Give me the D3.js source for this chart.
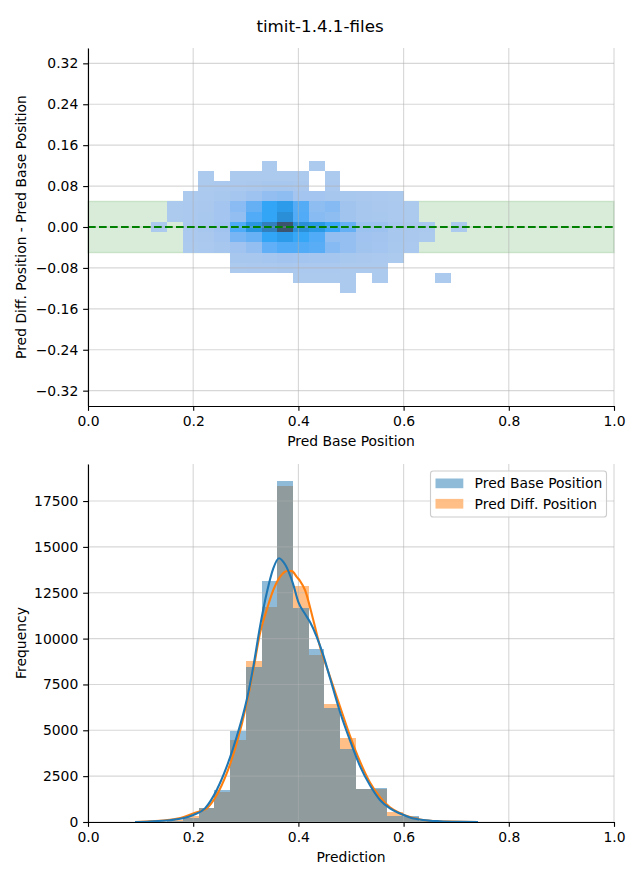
<!DOCTYPE html>
<html><head><meta charset="utf-8">
<script src="https://cdn.jsdelivr.net/npm/d3@7"></script>
<style>
body{margin:0;background:#fff}
svg{display:block}
text{font-family:"DejaVu Sans",sans-serif}
</style>
</head><body>
<svg id="c" width="640" height="880"></svg>
<script>
// ---------------- DATA ----------------
const title = "timit-1.4.1-files";

// 2D histogram (top): bin edges and counts [row = y bin, col = x bin]
const heatXEdges = [0.12,0.15,0.18,0.21,0.24,0.27,0.30,0.33,0.36,0.39,0.42,0.45,0.48,0.51,0.54,0.57,0.60,0.63,0.66,0.69,0.72];
const heatYEdges = [-0.13,-0.11,-0.09,-0.07,-0.05,-0.03,-0.01,0.01,0.03,0.05,0.07,0.09,0.11,0.13];
const heatCounts = [
  [0,0,0,0,0,0,0,0,0,0,0,0,4,0,0,0,0,0,0,0],
  [0,0,0,0,0,0,0,0,0,15,12,10,8,0,6,0,0,0,3,0],
  [0,0,0,0,0,30,50,70,80,70,50,40,30,20,12,0,0,0,0,0],
  [0,0,0,0,0,150,200,270,360,320,270,270,120,80,50,25,0,0,0,0],
  [0,0,25,70,200,450,900,2160,2430,2430,2340,1260,800,400,350,120,60,0,0,0],
  [0,0,40,100,300,1620,1980,2970,3600,2880,2430,900,800,450,380,150,80,30,0,0],
  [8,0,60,150,450,2520,4140,5760,9000,4600,3870,2790,2070,600,550,200,100,40,0,6],
  [0,20,50,120,350,900,2430,2970,4600,2430,1170,990,400,180,120,60,25,0,0,0],
  [0,15,40,100,300,1100,2070,2970,3600,2400,1000,1260,400,150,100,60,25,0,0,0],
  [0,0,20,60,120,250,500,850,1000,350,300,200,120,80,60,30,0,0,0,0],
  [0,0,0,30,45,60,90,150,170,80,0,40,0,0,0,0,0,0,0,0],
  [0,0,0,12,0,20,25,30,35,25,0,15,0,0,0,0,0,0,0,0],
  [0,0,0,0,0,0,0,10,0,0,8,0,0,0,0,0,0,0,0,0]
];
const bandLow = -0.05, bandHigh = 0.05, refLine = 0;
const topXTicks = [0,0.2,0.4,0.6,0.8,1.0];
const topYTicks = [-0.32,-0.24,-0.16,-0.08,0,0.08,0.16,0.24,0.32];
const topXLabel = "Pred Base Position";
const topYLabel = "Pred Diff. Position - Pred Base Position";

// 1D histograms (bottom)
const seriesNames = ["Pred Base Position","Pred Diff. Position"];
const histEdges = [0.0910,0.1209,0.1507,0.1806,0.2105,0.2404,0.2702,0.3001,0.3300,0.3599,0.3897,0.4196,0.4494,0.4793,0.5092,0.5391,0.5689,0.5988,0.6287,0.6585,0.6884,0.7183,0.7482];
const baseCounts = [5,15,60,230,760,1745,4980,8450,13150,18590,11650,9430,6200,4000,1800,1830,330,330,60,20,8,3];
const diffCounts = [10,25,120,330,740,1636,4470,8780,11740,18330,12870,9100,6430,4600,1790,1810,545,255,50,15,6,2];
const baseKdeX = [0.0894,0.1179,0.1559,0.1806,0.2002,0.2224,0.2447,0.2637,0.2827,0.3017,0.3143,0.3270,0.3397,0.3523,0.3631,0.3745,0.3897,0.3998,0.4125,0.4221,0.4348,0.4473,0.4601,0.4791,0.4981,0.5171,0.5361,0.5551,0.5741,0.5932,0.6122,0.6369,0.6692,0.7072,0.7414];
const baseKdeY = [0,30,100,200,380,745,1745,3015,4650,6650,8470,10650,12470,13830,14380,14050,13000,12000,11350,10900,10100,9100,7850,6000,4450,3050,2000,1200,740,460,250,110,40,10,1];
const diffKdeX = [0.0894,0.1179,0.1559,0.1806,0.2002,0.2257,0.2447,0.2637,0.2827,0.3017,0.3143,0.3270,0.3397,0.3523,0.3650,0.3808,0.3878,0.3968,0.4030,0.4125,0.4283,0.4411,0.4601,0.4791,0.4981,0.5171,0.5361,0.5551,0.5741,0.5932,0.6122,0.6312,0.6502,0.6882,0.7414];
const diffKdeY = [0,40,120,260,470,745,1470,2650,4290,6470,8290,10290,11560,12650,13370,13700,13680,13370,13150,12650,11010,9560,7920,6300,4700,3300,2150,1350,800,480,270,140,70,20,1];
const botXTicks = [0,0.2,0.4,0.6,0.8,1.0];
const botYTicks = [0,2500,5000,7500,10000,12500,15000,17500];
const botXLabel = "Prediction";
const botYLabel = "Frequency";

// ---------------- HUSL colormap (seaborn _cmap_from_color) ----------------
const M = [[3.2406,-1.5372,-0.4986],[-0.9689,1.8758,0.0415],[0.0557,-0.2040,1.0570]];
const MI = [[0.4124,0.3576,0.1805],[0.2126,0.7152,0.0722],[0.0193,0.1192,0.9505]];
const refU = 0.19784, refV = 0.46834, labE = 0.008856, labK = 903.3;
function maxChroma(L, H){
  const hr = H*Math.PI/180, sinH = Math.sin(hr), cosH = Math.cos(hr);
  const sub1 = Math.pow(L+16,3)/1560896, sub2 = sub1 > labE ? sub1 : L/labK;
  let res = Infinity;
  for (const [m1,m2,m3] of M){
    const tp = (0.99915*m1 + 1.05122*m2 + 1.14460*m3)*sub2;
    const rb = 0.86330*m3 - 0.17266*m2;
    const lb = 0.12949*m3 - 0.38848*m1;
    const bottom = (rb*sinH + lb*cosH)*sub2;
    for (const t of [0,1]){
      const C = L*(tp - 1.05122*t)/(bottom + 0.17266*sinH*t);
      if (C > 0 && C < res) res = C;
    }
  }
  return res;
}
function huslToRgb(H,S,L){
  if (L > 99.9999999) return [1,1,1];
  if (L < 1e-8) return [0,0,0];
  const C = maxChroma(L,H)/100*S, hr = H*Math.PI/180;
  const U = Math.cos(hr)*C, V = Math.sin(hr)*C;
  const t = (L+16)/116;
  const Y = t*t*t > labE ? t*t*t : (116*t-16)/labK;
  const varU = U/(13*L)+refU, varV = V/(13*L)+refV;
  const X = -(9*Y*varU)/((varU-4)*varV - varU*varV);
  const Z = (9*Y - 15*varV*Y - varV*X)/(3*varV);
  return M.map(r => { const c = r[0]*X + r[1]*Y + r[2]*Z; return c <= 0.0031308 ? 12.92*c : 1.055*Math.pow(c,1/2.4)-0.055; });
}
function rgbToHusl(r,g,b){
  const lin = c => c > 0.04045 ? Math.pow((c+0.055)/1.055,2.4) : c/12.92;
  const v = [lin(r),lin(g),lin(b)];
  const [X,Y,Z] = MI.map(row => row[0]*v[0]+row[1]*v[1]+row[2]*v[2]);
  const den = X+15*Y+3*Z;
  const vu = 4*X/den, vv = 9*Y/den;
  const fy = Y > labE ? Math.cbrt(Y) : 7.787*Y + 16/116;
  const L = 116*fy - 16;
  const U = 13*L*(vu-refU), V = 13*L*(vv-refV);
  const C = Math.hypot(U,V);
  let H = Math.atan2(V,U)*180/Math.PI; if (H < 0) H += 360;
  return [H, C/maxChroma(L,H)*100, L];
}
const seed = d3.rgb("#1f77b4");
const [seedH, seedS] = rgbToHusl(seed.r/255, seed.g/255, seed.b/255);
function seabornCmap(v){
  const j = Math.min(255, Math.max(0, Math.floor(v*256)));
  const i = 255 - j;
  const L = 35 + 45*i/255;
  const xx = -1 + 2*i/293;
  const c = huslToRgb(seedH, seedS*Math.cos(xx), L).map(x => Math.round(Math.min(1,Math.max(0,x))*255));
  return d3.rgb(c[0],c[1],c[2]).formatHex();
}

// ---------------- DRAW ----------------
const svg = d3.select("#c");
const FS = 13.9, TICK = 4.86, PAD = 4.86, SPW = 1.11;
const gridStyle = s => s.attr("stroke","#b0b0b0").attr("stroke-opacity",0.5).attr("stroke-width",1.11);

svg.append("text").attr("x",320).attr("y",32).attr("text-anchor","middle")
  .attr("font-size",16.7).text(title);

function styleAxis(g){
  g.attr("font-size",FS).attr("font-family","DejaVu Sans");
  g.selectAll("path.domain").attr("stroke","#000").attr("stroke-width",SPW);
  g.selectAll(".tick line").attr("stroke","#000").attr("stroke-width",SPW);
  g.selectAll(".tick text").attr("fill","#000");
}

// ===== Top chart =====
const xT = d3.scaleLinear().domain([0,1]).range([88,614]);
const yT = d3.scaleLinear().domain([-0.35,0.35]).range([406,48]);
const topG = svg.append("g");

topG.append("rect")
  .attr("x",xT(0)).attr("width",xT(1)-xT(0))
  .attr("y",yT(bandHigh)).attr("height",yT(bandLow)-yT(bandHigh))
  .attr("fill","#008000").attr("fill-opacity",0.15)
  .attr("stroke","#008000").attr("stroke-opacity",0.15).attr("stroke-width",1.39);

const cells = [];
heatCounts.forEach((row,r) => row.forEach((v,c) => { if (v > 0) cells.push({x0:heatXEdges[c],x1:heatXEdges[c+1],y0:heatYEdges[r],y1:heatYEdges[r+1],v}); }));
const color = d3.scaleSequential(seabornCmap).domain(d3.extent(cells, d => d.v));
topG.append("g").selectAll("rect").data(cells).join("rect")
  .attr("x",d => xT(d.x0)).attr("width",d => xT(d.x1)-xT(d.x0))
  .attr("y",d => yT(d.y1)).attr("height",d => yT(d.y0)-yT(d.y1))
  .attr("fill",d => color(d.v)).attr("shape-rendering","crispEdges");

const gT = topG.append("g");
gT.selectAll("line.gx").data(topXTicks).join("line")
  .attr("x1",d=>xT(d)).attr("x2",d=>xT(d)).attr("y1",yT.range()[0]).attr("y2",yT.range()[1]).call(gridStyle);
gT.selectAll("line.gy").data(topYTicks).join("line")
  .attr("y1",d=>yT(d)).attr("y2",d=>yT(d)).attr("x1",xT.range()[0]).attr("x2",xT.range()[1]).call(gridStyle);

topG.append("line").attr("x1",xT(0)).attr("x2",xT(1)).attr("y1",yT(refLine)).attr("y2",yT(refLine))
  .attr("stroke","#008000").attr("stroke-width",2.08).attr("stroke-dasharray","7.7,3.3");

topG.append("g").attr("transform",`translate(0,${yT.range()[0]})`)
  .call(d3.axisBottom(xT).tickValues(topXTicks).tickFormat(d3.format(".1f")).tickSizeInner(TICK).tickSizeOuter(0).tickPadding(PAD))
  .call(styleAxis);
topG.append("g").attr("transform",`translate(${xT.range()[0]},0)`)
  .call(d3.axisLeft(yT).tickValues(topYTicks).tickFormat(d3.format(".2f")).tickSizeInner(TICK).tickSizeOuter(0).tickPadding(PAD))
  .call(styleAxis);
topG.append("text").attr("x",(xT(0)+xT(1))/2).attr("y",446).attr("text-anchor","middle").attr("font-size",FS).text(topXLabel);
topG.append("text").attr("transform",`translate(26,${(yT(0.35)+yT(-0.35))/2}) rotate(-90)`).attr("text-anchor","middle").attr("font-size",FS).text(topYLabel);

// ===== Bottom chart =====
const xB = d3.scaleLinear().domain([0,1]).range([88,614]);
const yB = d3.scaleLinear().domain([0,19520]).range([822,464]);
const botG = svg.append("g");

function bars(counts, fill){
  const data = counts.map((v,i) => ({x0:histEdges[i], x1:histEdges[i+1], v}));
  botG.append("g").selectAll("rect").data(data).join("rect")
    .attr("x",d=>xB(d.x0)).attr("width",d=>xB(d.x1)-xB(d.x0))
    .attr("y",d=>yB(d.v)).attr("height",d=>yB(0)-yB(d.v))
    .attr("fill",fill).attr("fill-opacity",0.5).attr("shape-rendering","crispEdges");
}
bars(diffCounts,"#ff7f0e");
bars(baseCounts,"#1f77b4");

const gB = botG.append("g");
gB.selectAll("line.gx").data(botXTicks).join("line")
  .attr("x1",d=>xB(d)).attr("x2",d=>xB(d)).attr("y1",yB.range()[0]).attr("y2",yB.range()[1]).call(gridStyle);
gB.selectAll("line.gy").data(botYTicks).join("line")
  .attr("y1",d=>yB(d)).attr("y2",d=>yB(d)).attr("x1",xB.range()[0]).attr("x2",xB.range()[1]).call(gridStyle);

const kdeLine = d3.line().x(d=>xB(d[0])).y(d=>yB(d[1])).curve(d3.curveMonotoneX);
botG.append("path").datum(d3.zip(diffKdeX,diffKdeY)).attr("d",kdeLine).attr("fill","none").attr("stroke","#ff7f0e").attr("stroke-width",2.08);
botG.append("path").datum(d3.zip(baseKdeX,baseKdeY)).attr("d",kdeLine).attr("fill","none").attr("stroke","#1f77b4").attr("stroke-width",2.08);

botG.append("g").attr("transform",`translate(0,${yB.range()[0]})`)
  .call(d3.axisBottom(xB).tickValues(botXTicks).tickFormat(d3.format(".1f")).tickSizeInner(TICK).tickSizeOuter(0).tickPadding(PAD))
  .call(styleAxis);
botG.append("g").attr("transform",`translate(${xB.range()[0]},0)`)
  .call(d3.axisLeft(yB).tickValues(botYTicks).tickFormat(d3.format("d")).tickSizeInner(TICK).tickSizeOuter(0).tickPadding(PAD))
  .call(styleAxis);
botG.append("text").attr("x",(xB(0)+xB(1))/2).attr("y",862).attr("text-anchor","middle").attr("font-size",FS).text(botXLabel);
botG.append("text").attr("transform",`translate(26,${(yB.range()[0]+yB.range()[1])/2}) rotate(-90)`).attr("text-anchor","middle").attr("font-size",FS).text(botYLabel);

// legend
const lg = botG.append("g");
lg.append("rect").attr("x",430.5).attr("y",471).attr("width",176).attr("height",46).attr("rx",2.8)
  .attr("fill","#fff").attr("fill-opacity",0.8).attr("stroke","#cccccc").attr("stroke-width",1.11);
const legColors = ["#1f77b4","#ff7f0e"];
seriesNames.forEach((n,i) => {
  lg.append("rect").attr("x",435.5).attr("y",478.5+i*20.4).attr("width",27.8).attr("height",9.7)
    .attr("fill",legColors[i]).attr("fill-opacity",0.5);
  lg.append("text").attr("x",474.6).attr("y",488.4+i*20.4).attr("font-size",FS).text(n);
});
</script>
</body></html>
